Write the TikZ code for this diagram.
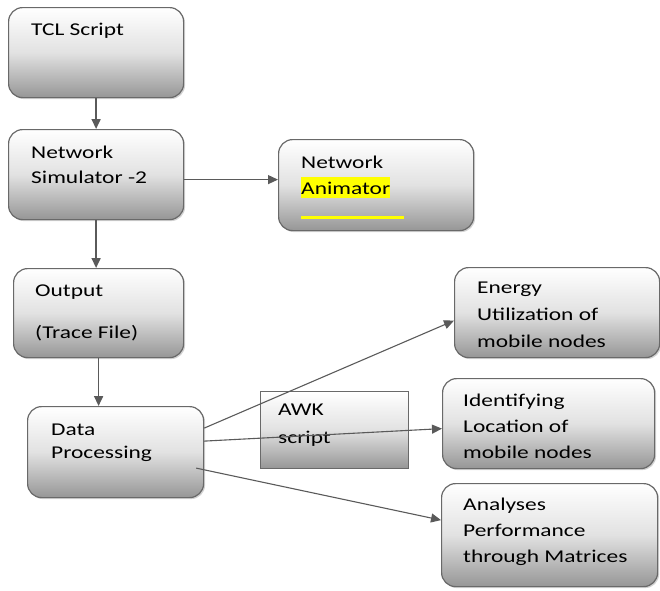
\documentclass[tikz,border=0pt]{standalone}
\usepackage{fontspec}
\setmainfont{Carlito}[FakeStretch=1.3]
\usepackage{xcolor}
\usetikzlibrary{arrows.meta,shadows}
\definecolor{edge}{RGB}{105,105,105}
\definecolor{wire}{RGB}{90,90,90}
\definecolor{shade}{RGB}{150,150,150}
\definecolor{marker}{RGB}{255,255,0}

\begin{document}
\begin{tikzpicture}[x=1pt, y=-1pt,
    box/.style={rectangle, rounded corners=14pt, draw=edge, line width=1.2pt,
      top color=white, bottom color=shade, middle color=shade!28,
      drop shadow={shadow xshift=1.5pt, shadow yshift=-1.5pt, opacity=0.35},
      anchor=north west, inner sep=0pt},
    plainbox/.style={rectangle, draw=edge, line width=1.2pt,
      top color=white, bottom color=shade, middle color=shade!28,
      anchor=north west, inner sep=0pt},
    txt/.style={anchor=north west, inner sep=0pt, align=left,
      font=\fontsize{18}{26}\selectfont},
    flow/.style={draw=wire, line width=1.7pt, -{Triangle[length=10pt,width=9pt]}},
    link/.style={flow, line width=1.1pt}]
  \useasboundingbox (0,0) rectangle (660,590);

  % Boxes
  \node[box, minimum width=175pt, minimum height=90pt] (tcl) at (8,7) {};
  \node[box, minimum width=175pt, minimum height=90pt] (ns) at (8,129) {};
  \node[box, minimum width=195pt, minimum height=91pt] (anim) at (278,139) {};
  \node[box, minimum width=170pt, minimum height=89pt] (out) at (13,268) {};
  \node[box, minimum width=176pt, minimum height=91pt] (data) at (27,406) {};
  \node[plainbox, minimum width=148pt, minimum height=77pt] (awk) at (260,391) {};
  \node[box, minimum width=205pt, minimum height=90pt] (energy) at (454,267) {};
  \node[box, minimum width=212pt, minimum height=90pt] (ident) at (442,378) {};
  \node[box, minimum width=216pt, minimum height=103pt] (anal) at (441,483) {};

  % Texts
  \node[txt] (tcl-t) at ([shift={(23pt,-16pt)}]tcl.north west) {TCL Script};
  \node[txt] (ns-t) at ([shift={(23pt,-17pt)}]ns.north west) {Network\\[-1pt]Simulator -2};
  \node[txt] (anim-t) at ([shift={(23pt,-17pt)}]anim.north west)
    {Network\\{\fboxsep=0pt\colorbox{marker}{\rule[-3pt]{0pt}{21pt}Animator}}\\
     \textcolor{marker}{\rule[1.5pt]{103pt}{3pt}}};
  \node[txt] (out-t) at ([shift={(22pt,-17pt)}]out.north west) {Output\\[16pt](Trace File)};
  \node[txt] (data-t) at ([shift={(24pt,-18pt)}]data.north west) {Data\\[-3pt]Processing};
  \node[txt] (awk-t) at ([shift={(18pt,-13pt)}]awk.north west) {AWK\\[2pt]script};
  \node[txt] (energy-t) at ([shift={(23pt,-15pt)}]energy.north west)
    {Energy\\[1pt]Utilization of\\[1pt]mobile nodes};
  \node[txt] (ident-t) at ([shift={(21pt,-16pt)}]ident.north west)
    {Identifying\\Location of\\mobile nodes};
  \node[txt] (anal-t) at ([shift={(22pt,-15pt)}]anal.north west)
    {Analyses\\Performance\\through Matrices};

  % Arrows
  \draw[flow] (tcl.south) -- (ns.north);
  \draw[flow] (ns.south) -- (ns.south |- out.north);
  \draw[flow] (out.south) -- (out.south |- data.north);
  \draw[link] ([yshift=-5pt]ns.east) -- ([yshift=-5pt]ns.east -| anim.west);

  % Data processing outputs
  \draw[link] ([yshift=24pt]data.east) -- ([yshift=-8pt]energy.west);
  \draw[link] ([yshift=11pt]data.east) -- ([yshift=-5pt]ident.west);
  \draw[link] ([shift={(-8pt,-16pt)}]data.east) -- ([yshift=15pt]anal.west);
\end{tikzpicture}
\end{document}
